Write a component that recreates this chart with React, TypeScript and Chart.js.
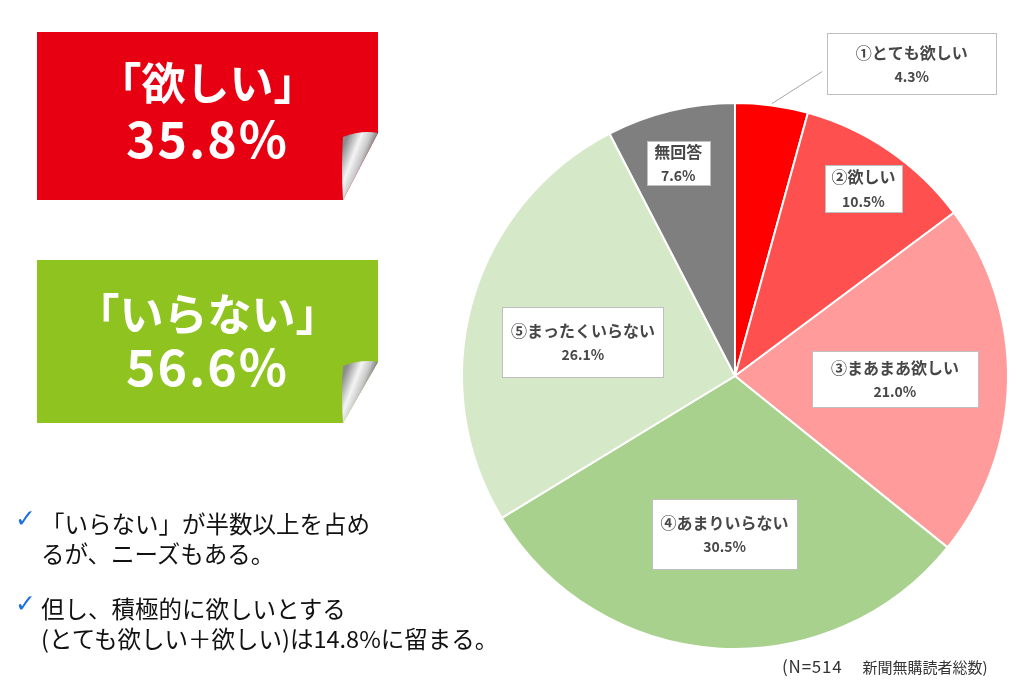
import React, { useEffect, useRef } from "react";
import { Chart, registerables } from "chart.js";

Chart.register(...registerables);

const categories = ["①とても欲しい", "②欲しい", "③まあまあ欲しい", "④あまりいらない", "⑤まったくいらない", "無回答"];
const shares = [4.3, 10.5, 21.0, 30.5, 26.1, 7.6];
const sliceColors = ["#FF0000", "#FF5050", "#FF9B9B", "#A9D18E", "#D5E8C8", "#7F7F7F"];

const wantTitle = "「欲しい」";
const wantTotal = "35.8%";
const notWantTitle = "「いらない」";
const notWantTotal = "56.6%";
const bullet1 = ["「いらない」が半数以上を占め", "るが、ニーズもある。"];
const bullet2 = ["但し、積極的に欲しいとする", "(とても欲しい＋欲しい)は14.8%に留まる。"];
const footnote = "(N=514　新聞無購読者総数)";

// label placement: radial fraction of slice radius, extra offset, box size
const labelLayout = [
  { r: 1.0, dx: 140, dy: -42, w: 169, h: 61, leader: true },
  { r: 0.833, dx: 0, dy: 0, w: 77, h: 47 },
  { r: 0.586, dx: 0, dy: 0, w: 166, h: 56 },
  { r: 0.58, dx: 0, dy: 0, w: 145, h: 70 },
  { r: 0.571, dx: -2, dy: 8, w: 161, h: 70 },
  { r: 0.803, dx: -5, dy: 0, w: 63, h: 44 },
];

const FONT = '"Noto Sans CJK JP", "Noto Sans", sans-serif';

const sliceLabelPlugin = {
  id: "sliceLabels",
  afterDatasetsDraw(chart: any) {
    const ctx = chart.ctx;
    const meta = chart.getDatasetMeta(0);
    meta.data.forEach((arc: any, i: number) => {
      const p = arc.getProps(["startAngle", "endAngle", "outerRadius", "x", "y"], true);
      const mid = (p.startAngle + p.endAngle) / 2;
      const L = labelLayout[i];
      const cx = p.x + Math.cos(mid) * p.outerRadius * L.r + L.dx;
      const cy = p.y + Math.sin(mid) * p.outerRadius * L.r + L.dy;
      const left = cx - L.w / 2;
      const top = cy - L.h / 2;
      ctx.save();
      if (L.leader) {
        ctx.strokeStyle = "#A6A6A6";
        ctx.lineWidth = 1;
        ctx.beginPath();
        ctx.moveTo(p.x + Math.cos(mid) * (p.outerRadius + 2), p.y + Math.sin(mid) * (p.outerRadius + 2));
        ctx.lineTo(left - 5, cy + 8);
        ctx.stroke();
      }
      ctx.fillStyle = "#FFFFFF";
      ctx.fillRect(Math.round(left) + 0.5, Math.round(top) + 0.5, L.w, L.h);
      ctx.strokeStyle = "#BFBFBF";
      ctx.lineWidth = 1;
      ctx.strokeRect(Math.round(left) + 0.5, Math.round(top) + 0.5, L.w, L.h);
      ctx.fillStyle = "#474747";
      ctx.textAlign = "center";
      ctx.textBaseline = "middle";
      ctx.font = `bold 16px ${FONT}`;
      ctx.fillText(categories[i], cx, cy - 11);
      ctx.font = `bold 14px ${FONT}`;
      ctx.fillText(`${shares[i].toFixed(1)}%`, cx, cy + 13);
      ctx.restore();
    });
  },
};

function Sticker({ top, bottom, curlY, color, title, total, titleY, totalY, gid }: any) {
  const left = 37;
  const right = 378;
  const foldX = 343;
  return (
    <>
      <svg
        width={1024}
        height={688}
        style={{ position: "absolute", left: 0, top: 0, pointerEvents: "none" }}
      >
        <defs>
          <linearGradient id={gid} x1={foldX - 2} y1={curlY + 20} x2={foldX + 24} y2={curlY + 30} gradientUnits="userSpaceOnUse">
            <stop offset="0" stopColor="#8C8C8C" />
            <stop offset="0.45" stopColor="#F4F4F4" />
            <stop offset="0.75" stopColor="#C8C8C8" />
            <stop offset="1" stopColor="#7A7A7A" />
          </linearGradient>
        </defs>
        <path d={`M${left},${top} H${right} V${curlY} L${foldX},${bottom} H${left} Z`} fill={color} />
        <path
          d={`M${foldX},${curlY + 4} Q${foldX + 18},${curlY - 3} ${right},${curlY} L${foldX},${bottom} Q${foldX - 2},${(curlY + bottom) / 2} ${foldX},${curlY + 4} Z`}
          fill={`url(#${gid})`}
        />
      </svg>
      <div
        style={{
          position: "absolute",
          left,
          width: right - left,
          top: titleY - 22,
          height: 44,
          lineHeight: "44px",
          fontSize: 44,
          fontWeight: 700,
          color: "#FFFFFF",
          textAlign: "center",
          fontFamily: FONT,
          whiteSpace: "nowrap",
        }}
      >
        {title}
      </div>
      <div
        style={{
          position: "absolute",
          left,
          width: right - left,
          top: totalY - 27,
          height: 50,
          lineHeight: "50px",
          fontSize: 50,
          fontWeight: 700,
          letterSpacing: 2,
          color: "#FFFFFF",
          textAlign: "center",
          fontFamily: FONT,
          whiteSpace: "nowrap",
        }}
      >
        {total}
      </div>
    </>
  );
}

function Bullet({ lines, centerY }: any) {
  return (
    <>
      <div
        style={{
          position: "absolute",
          left: 15,
          top: centerY - 20,
          fontSize: 25,
          fontWeight: 700,
          lineHeight: "32px",
          color: "#1A6FE8",
          fontFamily: '"DejaVu Sans", sans-serif',
        }}
      >
        ✓
      </div>
      <div
        style={{
          position: "absolute",
          left: 41,
          top: centerY - 15,
          fontSize: 23.5,
          lineHeight: "30px",
          color: "#111111",
          fontFamily: FONT,
          whiteSpace: "nowrap",
        }}
      >
        {lines.map((l: string, i: number) => (
          <div key={i}>{l}</div>
        ))}
      </div>
    </>
  );
}

export default function App() {
  const canvasRef = useRef<HTMLCanvasElement | null>(null);

  useEffect(() => {
    if (!canvasRef.current) return;
    const chart = new Chart(canvasRef.current, {
      type: "pie",
      data: {
        labels: categories,
        datasets: [
          {
            data: shares,
            backgroundColor: sliceColors,
            borderColor: "#FFFFFF",
            borderWidth: 2,
          },
        ],
      },
      options: {
        responsive: false,
        animation: false,
        layout: { padding: { left: 461, right: 15, top: 102, bottom: 38 } },
        plugins: {
          legend: { display: false },
          tooltip: { enabled: false },
        },
      },
      plugins: [sliceLabelPlugin],
    });
    return () => chart.destroy();
  }, []);

  const [footA, footB] = footnote.split("　");

  return (
    <div
      style={{
        position: "fixed",
        left: 0,
        top: 0,
        width: 1024,
        height: 688,
        background: "#FFFFFF",
        overflow: "hidden",
      }}
    >
      <canvas ref={canvasRef} width={1024} height={688} style={{ position: "absolute", left: 0, top: 0 }} />
      <Sticker top={32} bottom={200} curlY={133} color="#E60012" title={wantTitle} total={wantTotal} titleY={81} totalY={138} gid="curlRed" />
      <Sticker top={260} bottom={423} curlY={362} color="#8FC31F" title={notWantTitle} total={notWantTotal} titleY={312} totalY={366} gid="curlGreen" />
      <Bullet lines={bullet1} centerY={523} />
      <Bullet lines={bullet2} centerY={608} />
      <div
        style={{
          position: "absolute",
          left: 782,
          top: 656,
          fontSize: 15,
          lineHeight: "20px",
          color: "#333333",
          fontFamily: FONT,
          whiteSpace: "nowrap",
        }}
      >
        <span style={{ letterSpacing: 0.8, fontSize: 17 }}>{footA}</span>
        <span style={{ display: "inline-block", width: 20 }}>　</span>
        <span>{footB}</span>
      </div>
    </div>
  );
}
